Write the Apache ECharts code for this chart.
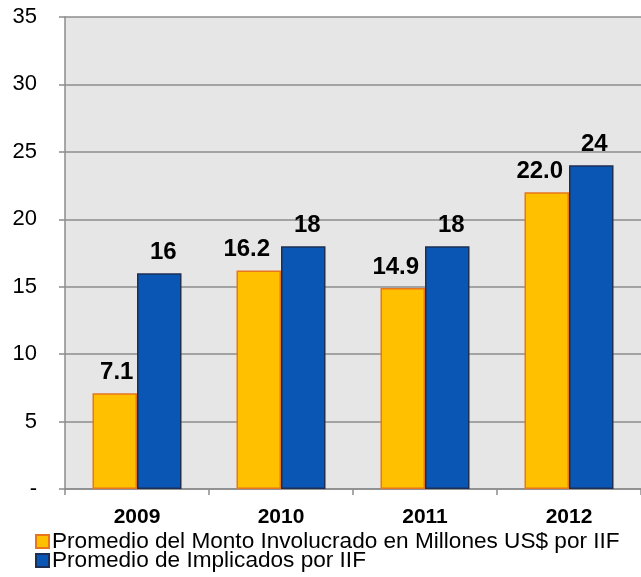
<!DOCTYPE html>
<html>
<head>
<meta charset="utf-8">
<script src="https://cdn.jsdelivr.net/npm/echarts@6/dist/echarts.min.js"></script>
<style>
  html, body { margin: 0; padding: 0; background: #ffffff; }
  #chart { width: 641px; height: 577px; }
</style>
</head>
<body>
<div id="chart"></div>
<script>
// Years on the category axis
const years = ['2009', '2010', '2011', '2012'];

// Average amount involved (millions US$) per IIF
const montoPromedio = [7.1, 16.2, 14.9, 22.0];

// Average number of people implicated per IIF
const implicadosPromedio = [16, 18, 18, 24];

// Value axis ticks
const yTicks = [0, 5, 10, 15, 20, 25, 30, 35];

const seriesNames = [
  'Promedio del Monto Involucrado en Millones US$ por IIF',
  'Promedio de Implicados por IIF'
];

// Horizontal nudges for the value labels, so neighbouring labels do not collide
const montoLabelShift = [2, -12, -7, -7];
const implicadosLabelShift = [4, 4, 4, 3];

const FONT = 'Liberation Sans, Arial, sans-serif';

const chart = echarts.init(document.getElementById('chart'), null, { renderer: 'canvas' });

function withLabels(values, shifts, digits) {
  return values.map((v, i) => ({
    value: v,
    label: { offset: [shifts[i], 0], formatter: () => v.toFixed(digits) }
  }));
}

const labelStyle = {
  show: true,
  position: 'top',
  distance: 9,
  color: '#000000',
  fontFamily: FONT,
  fontWeight: 'bold',
  fontSize: 24
};

// One legend row per series, stacked under the axis
function legendRow(name, top) {
  return {
    left: 35,
    top: top,
    itemWidth: 13,
    itemHeight: 13,
    icon: 'rect',
    padding: 0,
    selectedMode: false,
    textStyle: {
      color: '#000000',
      fontFamily: FONT,
      fontSize: 22.6,
      padding: [0, 0, 0, -2]
    },
    data: [name]
  };
}

chart.setOption({
  animation: false,
  backgroundColor: '#ffffff',
  grid: {
    left: 65,
    top: 17,
    width: 582,
    height: 472,
    show: true,
    backgroundColor: '#e6e6e6',
    borderWidth: 0
  },
  legend: [legendRow(seriesNames[0], 530), legendRow(seriesNames[1], 549)],
  xAxis: {
    type: 'category',
    data: years,
    axisLine: { show: true, lineStyle: { color: '#8c8c8c', width: 1.5 } },
    axisTick: { show: true, length: 6, lineStyle: { color: '#8c8c8c', width: 1.5 } },
    axisLabel: {
      margin: 18,
      color: '#000000',
      fontFamily: FONT,
      fontWeight: 'bold',
      fontSize: 21
    }
  },
  yAxis: {
    type: 'value',
    min: yTicks[0],
    max: yTicks[yTicks.length - 1],
    interval: yTicks[1] - yTicks[0],
    axisLine: { show: true, lineStyle: { color: '#8c8c8c', width: 1.5 } },
    axisTick: { show: true, length: 6, lineStyle: { color: '#8c8c8c', width: 1.5 } },
    splitLine: { show: true, lineStyle: { color: '#8c8c8c', width: 1.5 } },
    axisLabel: {
      margin: 28,
      color: '#000000',
      fontFamily: FONT,
      fontSize: 22,
      formatter: v => (v === 0 ? '-' : String(v))
    }
  },
  series: [
    {
      name: seriesNames[0],
      type: 'bar',
      barWidth: 44.5,
      barGap: '0%',
      itemStyle: { color: '#ffc000', borderColor: '#e8761e', borderWidth: 1.5 },
      label: labelStyle,
      data: withLabels(montoPromedio, montoLabelShift, 1)
    },
    {
      name: seriesNames[1],
      type: 'bar',
      barWidth: 44.5,
      barGap: '0%',
      itemStyle: { color: '#0a56b4', borderColor: '#1c2f55', borderWidth: 1.5 },
      label: labelStyle,
      data: withLabels(implicadosPromedio, implicadosLabelShift, 0)
    }
  ]
});
</script>
</body>
</html>
